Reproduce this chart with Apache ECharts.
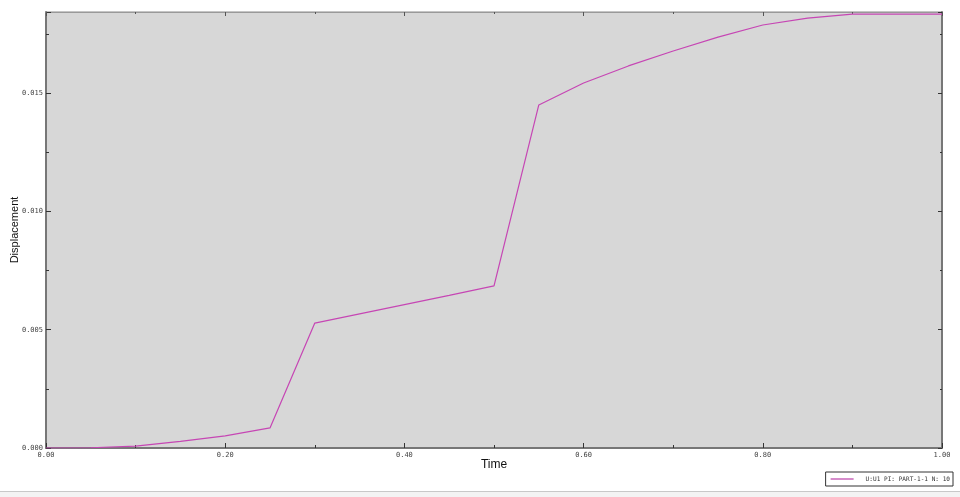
<!DOCTYPE html>
<html><head><meta charset="utf-8">
<script src="https://cdn.jsdelivr.net/npm/echarts@6/dist/echarts.min.js"></script>
<style>html,body{margin:0;padding:0;background:#fff}#c{width:960px;height:497px}</style>
</head><body><div id="c"></div>
<script>
var times = [0.00,0.05,0.10,0.15,0.20,0.25,0.30,0.35,0.40,0.45,0.50,0.55,0.60,0.65,0.70,0.75,0.80,0.85,0.90,0.95,1.00];
var displacement = [0.00000,0.00001,0.00008,0.00028,0.00051,0.00085,0.00528,0.00567,0.00606,0.00645,0.00685,0.01450,0.01543,0.01615,0.01678,0.01737,0.01788,0.01817,0.01834,0.01834,0.01834];
var seriesName = 'U:U1 PI: PART-1-1 N: 10';
var xTicks = [0,0.2,0.4,0.6,0.8,1.0];
var yTicks = [0,0.005,0.010,0.015];

var chart = echarts.init(document.getElementById('c'));
var pts = times.map(function(t,i){return [t, displacement[i]];});
var lblFont = {fontFamily:'DejaVu Sans Mono', fontSize:7, color:'#444'};
chart.setOption({
  animation:false,
  backgroundColor:'#fff',
  grid:{left:46,right:18,top:12,bottom:49,show:true,backgroundColor:'#d7d7d7',borderColor:'#8a8a8a',borderWidth:1,containLabel:false,outerBoundsMode:'none'},
  legend:{
    data:[seriesName], right:7, bottom:11, orient:'horizontal',
    borderColor:'#333', borderWidth:1, borderRadius:0, padding:[4,3,4,5],
    itemWidth:23, itemHeight:2, itemGap:4,
    icon:'rect',
    textStyle:{fontFamily:'DejaVu Sans Mono', fontSize:6.1, color:'#333', padding:[0,0,0,7]}
  },
  xAxis:[{
    type:'value', min:0, max:1, interval:0.2, position:'bottom',
    name:'Time', nameLocation:'middle', nameGap:11, nameMoveOverlap:false,
    nameTextStyle:{fontFamily:'Liberation Sans', fontSize:12, color:'#111'},
    axisLine:{show:true, onZero:false, lineStyle:{color:'#777', width:2}},
    axisTick:{show:true, inside:true, length:5, lineStyle:{color:'#333'}},
    minorTick:{show:true, splitNumber:2, length:3, lineStyle:{color:'#333'}},
    axisLabel:Object.assign({margin:4, formatter:function(v){return v.toFixed(2);}}, lblFont),
    splitLine:{show:false}
  },{
    type:'value', min:0, max:1, interval:0.2, position:'top',
    axisLine:{show:true, onZero:false, lineStyle:{color:'#999', width:1}},
    axisTick:{show:true, inside:true, length:4, lineStyle:{color:'#555'}},
    minorTick:{show:true, splitNumber:2, length:2, lineStyle:{color:'#555'}},
    axisLabel:{show:false}, splitLine:{show:false}
  }],
  yAxis:[{
    type:'value', min:0, max:0.01843, interval:0.005, position:'left',
    name:'Displacement', nameLocation:'middle', nameGap:26, nameMoveOverlap:false,
    nameTextStyle:{fontFamily:'Liberation Sans', fontSize:11, color:'#111'},
    axisLine:{show:true, onZero:false, lineStyle:{color:'#777', width:2}},
    axisTick:{show:true, inside:true, length:5, lineStyle:{color:'#333'}},
    minorTick:{show:true, splitNumber:2, length:3, lineStyle:{color:'#333'}},
    axisLabel:Object.assign({margin:3, showMaxLabel:false, formatter:function(v){return Math.abs(v/0.005-Math.round(v/0.005))<1e-6 ? v.toFixed(3) : '';}}, lblFont),
    splitLine:{show:false}
  },{
    type:'value', min:0, max:0.01843, interval:0.005, position:'right',
    axisLine:{show:true, onZero:false, lineStyle:{color:'#777', width:2}},
    axisTick:{show:true, inside:true, length:4, lineStyle:{color:'#333'}},
    minorTick:{show:true, splitNumber:2, length:2, lineStyle:{color:'#333'}},
    axisLabel:{show:false}, splitLine:{show:false}
  }],
  series:[{
    name:seriesName, type:'line', data:pts, symbol:'none',
    lineStyle:{color:'#c646b4', width:1.2}, itemStyle:{color:'#d68ccb'}
  }],
  graphic:[
    {type:'rect', left:0, top:492, shape:{width:960, height:5}, style:{fill:'#f3f3f3'}, silent:true},
    {type:'line', shape:{x1:0,y1:491.5,x2:960,y2:491.5}, style:{stroke:'#c8c8c8', lineWidth:1}, silent:true}
  ]
});
</script></body></html>
